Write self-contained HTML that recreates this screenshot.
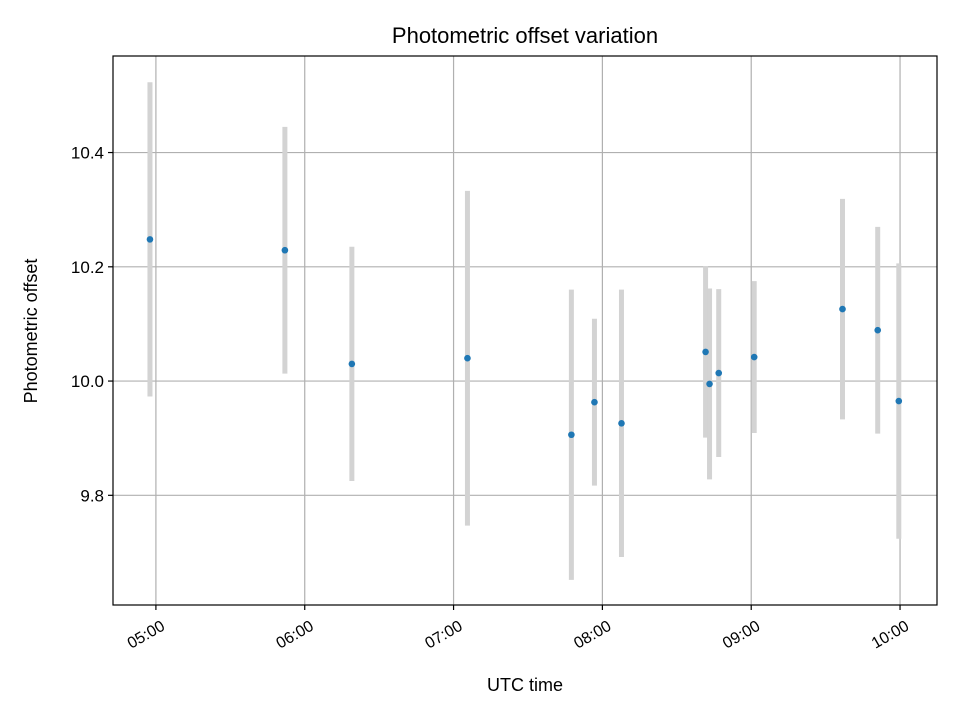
<!DOCTYPE html>
<html><head><meta charset="utf-8"><style>
body{margin:0;background:#fff}
svg text{font-family:"Liberation Sans","DejaVu Sans",sans-serif;fill:#000}
</style></head><body>
<svg id="chart" width="960" height="720" viewBox="0 0 960 720" xmlns="http://www.w3.org/2000/svg">
<rect width="960" height="720" fill="#fff"/>
<text x="525" y="43" font-size="22" text-anchor="middle">Photometric offset variation</text>
<text x="525" y="691" font-size="18" text-anchor="middle">UTC time</text>
<text transform="translate(37,331) rotate(-90)" font-size="18" text-anchor="middle">Photometric offset</text>
<g id="grid"></g><g id="marks"></g><g id="axes"></g>
</svg>
<script>
const times = ["04:57.6","05:52","06:19","07:05.6","07:47.5","07:56.8","08:07.7","08:41.6","08:43.2","08:46.9","09:01.2","09:36.8","09:51","09:59.5"];
const offsets = [10.248,10.229,10.030,10.040,9.906,9.963,9.926,10.051,9.995,10.014,10.042,10.126,10.089,9.965];
const errors = [0.275,0.216,0.205,0.293,0.254,0.146,0.234,0.15,0.167,0.147,0.133,0.193,0.181,0.241];
const xTicks = ["05:00","06:00","07:00","08:00","09:00","10:00"];
const yTicks = [9.8,10.0,10.2,10.4];

const L=113,R=937,T=56,B=605;
function toH(s){const p=s.split(":");return +p[0]+(+p[1])/60;}
const xMin=toH("04:42.7"), xMax=toH("10:14.9"), yMin=9.608, yMax=10.569;
const xs=v=>L+(toH(v)-xMin)/(xMax-xMin)*(R-L);
const ys=v=>B-(v-yMin)/(yMax-yMin)*(B-T);
const NS="http://www.w3.org/2000/svg";
function mk(tag,parent,attrs){const e=document.createElementNS(NS,tag);for(const k in attrs)e.setAttribute(k,attrs[k]);document.getElementById(parent).appendChild(e);return e;}

xTicks.forEach(t=>{const x=xs(t);
 const g=mk("line","grid",{x1:x,x2:x,y1:T,y2:B,stroke:"#b0b0b0","stroke-width":1.2});
 
 
 const tk=mk("line","axes",{x1:x,x2:x,y1:B,y2:B+5,stroke:"#000","stroke-width":1.2});
 
 
 const tx=mk("text","axes",{transform:`translate(${x+10},${B+24}) rotate(-30)`,"font-size":16,"text-anchor":"end"});
 tx.textContent=t;
 
 
});
yTicks.forEach(v=>{const y=ys(v);
 const g=mk("line","grid",{x1:L,x2:R,y1:y,y2:y,stroke:"#b0b0b0","stroke-width":1.2});
 
 
 const tk=mk("line","axes",{x1:L-5,x2:L,y1:y,y2:y,stroke:"#000","stroke-width":1.2});
 
 
 const tx=mk("text","axes",{x:L-9,y:y+6,"font-size":17,"text-anchor":"end"});
 tx.textContent=v.toFixed(1);
 
 
});
times.forEach((t,i)=>{const x=xs(t);
 const e=mk("line","marks",{x1:x,x2:x,y1:ys(offsets[i]+errors[i]),y2:ys(offsets[i]-errors[i]),stroke:"#d3d3d3","stroke-width":5});
 
 
});
times.forEach((t,i)=>{
 const c=mk("circle","marks",{cx:xs(t),cy:ys(offsets[i]),r:3.3,fill:"#1f77b4"});
 
 
});
const f=mk("rect","axes",{x:L,y:T,width:R-L,height:B-T,fill:"none",stroke:"#000","stroke-width":1.2});


</script>
</body></html>
